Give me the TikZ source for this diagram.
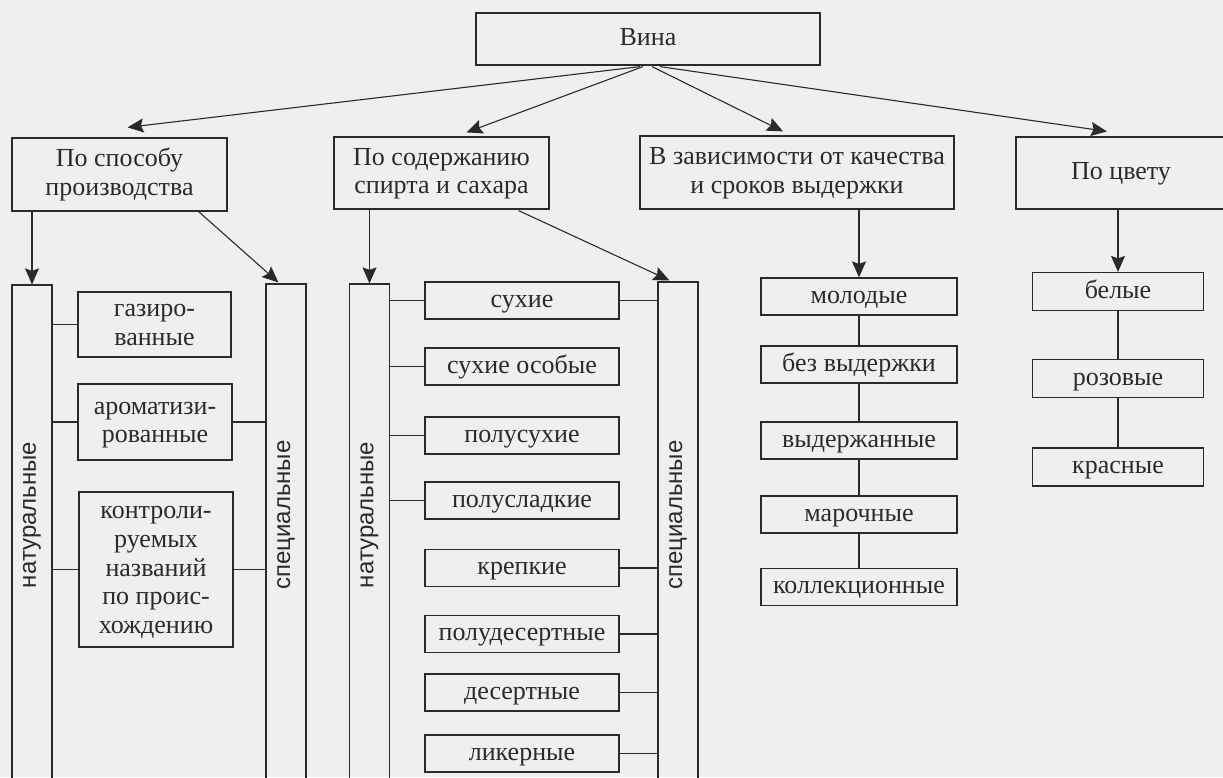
\documentclass[tikz,border=0pt]{standalone}
\usepackage{fontspec}
\setmainfont{Liberation Serif}
\newfontfamily\labelsans{Liberation Sans}
\usetikzlibrary{arrows.meta,calc}
\definecolor{paper}{RGB}{239,239,239}
\definecolor{ink}{RGB}{42,42,42}
\begin{document}
\begin{tikzpicture}[x=1pt,y=-1pt,
  box/.style={draw=ink, line width=1.2pt, inner sep=0pt, align=center, text=ink,
    font=\fontsize{26}{28.6}\selectfont, text height=16pt, text depth=3pt},
  lines2/.style={text height=44.6pt},
  lines5/.style={text height=130.4pt},
  bar/.style={draw=ink, line width=1.2pt, inner sep=0pt, minimum width=40pt},
  vlabel/.style={rotate=90, text=ink, inner sep=0pt, font=\labelsans\fontsize{24}{26}\selectfont},
  arr/.style={draw=ink, line width=1.1pt, -{Stealth[length=16pt,width=14pt,inset=2.5pt]}},
  link/.style={draw=ink, line width=1.1pt}]

\useasboundingbox (0,0) rectangle (1223,777);
\fill[paper] (0,0) rectangle (1223,777);
\clip (0,0) rectangle (1223,777);

% root
\node[box, minimum width=344pt, minimum height=52pt] (vina) at (648,39) {Вина};

% classification criteria
\node[box, lines2, minimum width=215pt, minimum height=73pt] (m1) at (119.5,174.5) {По способу\\производства};
\node[box, lines2, minimum width=215pt, minimum height=72pt] (m2) at (441.5,173) {По содержанию\\спирта и сахара};
\node[box, lines2, minimum width=314pt, minimum height=73pt] (m3) at (797,172.5) {В зависимости от качества\\и сроков выдержки};
\node[box, minimum width=210pt, minimum height=72pt] (m4) at (1121,173) {По цвету};

\coordinate (s1) at ($(vina.south)+(-8,1)$);
\coordinate (s2) at ($(vina.south)+(-5,1)$);
\coordinate (s3) at ($(vina.south)+(4,1)$);
\coordinate (s4) at ($(vina.south)+(12,1)$);
\draw[arr] (s1) -- ($(m1.north)+(8,-10)$);
\draw[arr] (s2) -- ($(m2.north)+(25,-4)$);
\draw[arr] (s3) -- ($(m3.north)+(-14,-4)$);
\draw[arr] (s4) -- ($(m4.north)+(-14,-5)$);

% vertical bars: natural / special
\node[bar, minimum height=505pt] (nat1) at (32,537.5) {};
\node[bar, minimum height=506pt] (spec1) at (286,537) {};
\node[bar, minimum height=506pt] (nat2) at (369.5,537) {};
\node[bar, minimum height=508pt] (spec2) at (678,536) {};
\node[vlabel] at (32,515) {натуральные};
\node[vlabel] at (286,515) {специальные};
\node[vlabel] at (369.5,515) {натуральные};
\node[vlabel] at (678,515) {специальные};

\draw[arr] (m1.south -| nat1.north) -- (nat1.north);
\draw[arr] ($(m1.south east)+(-29,0)$) -- ($(spec1.north west)+(13,-1)$);
\draw[arr] (m2.south -| nat2.north) -- (nat2.north);
\draw[arr] ($(m2.south east)+(-31,1)$) -- ($(spec2.north west)+(12,-1)$);

% production method
\node[box, lines2, minimum width=153pt, minimum height=65pt] (gaz) at (154.5,324.5) {газиро-\\ванные};
\node[box, lines2, minimum width=154pt, minimum height=76pt] (arom) at (155,422) {ароматизи-\\рованные};
\node[box, lines5, minimum width=154pt, minimum height=155pt] (kontr) at (156,569.5)
  {контроли-\\руемых\\названий\\по проис-\\хождению};
\draw[link] (gaz.west -| nat1.east) -- (gaz.west);
\draw[link] (arom.west -| nat1.east) -- (arom.west);
\draw[link] (arom.east) -- (arom.east -| spec1.west);
\draw[link] (kontr.west -| nat1.east) -- (kontr.west);
\draw[link] (kontr.east) -- (kontr.east -| spec1.west);

% alcohol and sugar content
\tikzset{mid/.style={box, minimum width=194pt, minimum height=37pt}}
\node[mid] (suh) at (522,300.5) {сухие};
\node[mid] (suhos) at (522,366.5) {сухие особые};
\node[mid] (polusuh) at (522,435.5) {полусухие};
\node[mid] (polusl) at (522,500.5) {полусладкие};
\node[mid] (krep) at (522,568) {крепкие};
\node[mid] (polud) at (522,634) {полудесертные};
\node[mid] (des) at (522,692.5) {десертные};
\node[mid] (lik) at (522,753.5) {ликерные};
\foreach \n in {suh,suhos,polusuh,polusl}
  \draw[link] (\n.west -| nat2.east) -- (\n.west);
\foreach \n in {suh,krep,polud,des,lik}
  \draw[link] (\n.east) -- (\n.east -| spec2.west);

% quality and ageing
\tikzset{age/.style={box, minimum width=196pt, minimum height=37pt}}
\node[age] (mol) at (859,296.5) {молодые};
\node[age] (bez) at (859,364.5) {без выдержки};
\node[age] (vyd) at (859,440.5) {выдержанные};
\node[age] (mar) at (859,514.5) {марочные};
\node[age] (kol) at (859,587) {коллекционные};
\draw[arr] (m3.south -| mol.north) -- (mol.north);
\draw[link] (mol) -- (bez);
\draw[link] (bez) -- (vyd);
\draw[link] (vyd) -- (mar);
\draw[link] (mar) -- (kol);

% colour
\tikzset{col/.style={box, minimum width=171pt, minimum height=38pt}}
\node[col] (bel) at (1118,291.5) {белые};
\node[col] (roz) at (1118,378.5) {розовые};
\node[col] (kras) at (1118,467) {красные};
\draw[arr] (m4.south -| bel.north) -- (bel.north);
\draw[link] (bel) -- (roz);
\draw[link] (roz) -- (kras);
\end{tikzpicture}
\end{document}
